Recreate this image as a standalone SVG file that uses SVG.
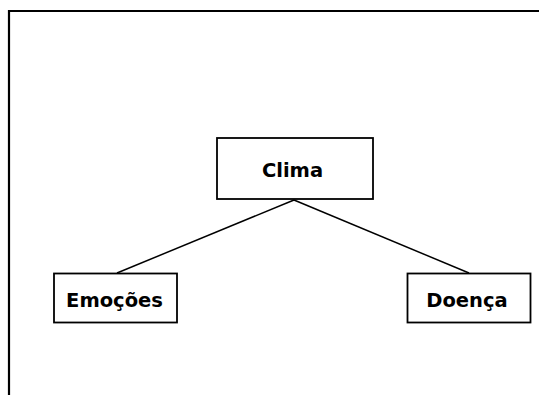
<svg xmlns="http://www.w3.org/2000/svg" width="539" height="395" viewBox="0 0 539 395">
<style>
.box{fill:#fff;stroke:#000;stroke-width:1.8}
.lbl{font-family:"DejaVu Sans",sans-serif;font-weight:bold;font-size:19.5px;text-anchor:middle;fill:#000}
.edge{stroke:#000;stroke-width:1.5;fill:none}
</style>
<rect width="539" height="395" fill="#fff"/>
<path d="M9,395 V11 H539" fill="none" stroke="#000" stroke-width="2.2"/>
<g id="connectors">
<line class="edge" x1="294" y1="200" x2="117" y2="273"/>
<line class="edge" x1="294" y1="200" x2="469" y2="273"/>
</g>
<g id="clima">
<rect class="box" x="217" y="138" width="156" height="61"/>
<text class="lbl" x="292.5" y="176.5">Clima</text>
</g>
<g id="emocoes">
<rect class="box" x="54" y="273.5" width="123" height="49"/>
<text class="lbl" x="114.5" y="306.5">Emoções</text>
</g>
<g id="doenca">
<rect class="box" x="407.5" y="273.5" width="123" height="49"/>
<text class="lbl" x="467" y="306.5">Doença</text>
</g>
</svg>
